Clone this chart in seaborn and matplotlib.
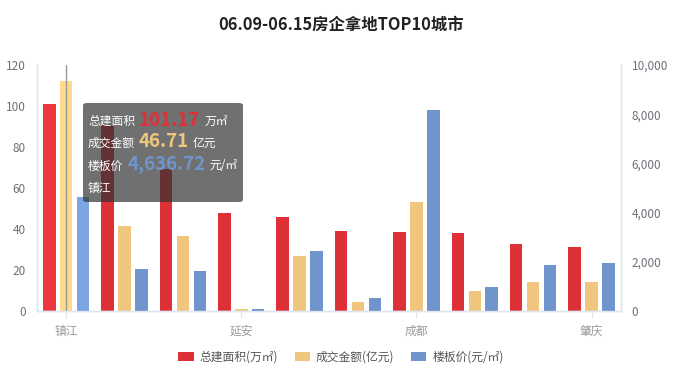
import numpy as np
import pandas as pd
import matplotlib.pyplot as plt
import seaborn as sns
from matplotlib.patches import FancyBboxPatch, Patch

# data
ranks = list(range(10))
city_labels = ['镇江', '', '', '延安', '', '', '成都', '', '', '肇庆']
area = [101.2, 90.7, 69.3, 47.7, 45.7, 39.0, 38.7, 38.0, 32.7, 31.2]      # 万㎡
amount = [112.0, 41.6, 36.6, 1.0, 26.8, 4.5, 53.0, 9.9, 14.3, 14.3]       # 亿元
price = [4637, 1707, 1626, 95, 2439, 528, 8159, 976, 1857, 1951]          # 元/㎡

series = ['总建面积(万㎡)', '成交金额(亿元)', '楼板价(元/㎡)']
colors = ['#DD3137', '#F0C57E', '#7095CD']
hi_colors = ['#EE373D', '#FFD98C', '#7BA4E0']

sns.set_theme(style='white')
plt.rcParams['font.family'] = ['Noto Sans CJK SC', 'DejaVu Sans']

nan = [np.nan] * 10
left_df = pd.DataFrame({
    'rank': ranks * 3,
    'series': np.repeat(series, 10),
    'value': area + amount + nan,
})
right_df = pd.DataFrame({
    'rank': ranks * 3,
    'series': np.repeat(series, 10),
    'value': nan + nan + price,
})

fig = plt.figure(figsize=(6.82, 3.78), dpi=100)
ax = fig.add_axes([37 / 682, 1 - 311 / 378, (620.7 - 37) / 682, (311 - 65) / 378])
ax2 = ax.twinx()

for a, df in [(ax, left_df), (ax2, right_df)]:
    sns.barplot(data=df, x='rank', y='value', hue='series', hue_order=series,
                palette=colors, width=0.87, gap=0.26, ax=a, legend=False,
                saturation=1, errorbar=None)

# highlight first category (hovered)
for a in (ax, ax2):
    for p in a.patches:
        xc = p.get_x() + p.get_width() / 2
        if xc < 0.5:
            fc = p.get_facecolor()
            for c, h in zip(colors, hi_colors):
                if np.allclose(fc[:3], plt.matplotlib.colors.to_rgb(c), atol=0.01):
                    p.set_facecolor(h)
        p.set_edgecolor('none')

ax.set_xlim(-0.5, 9.5)
ax.set_ylim(0, 120)
ax2.set_ylim(0, 10000)
ax.set_yticks([0, 20, 40, 60, 80, 100, 120])
ax2.set_yticks([0, 2000, 4000, 6000, 8000, 10000])
ax2.set_yticklabels([f'{v:,}' for v in [0, 2000, 4000, 6000, 8000, 10000]])
ax.set_xticks([0, 3, 6, 9])
ax.set_xticklabels([city_labels[i] for i in [0, 3, 6, 9]])
ax.set_xlabel('')
ax.set_ylabel('')
ax2.set_ylabel('')

ax.tick_params(axis='x', colors='#9a9a9a', labelsize=8.5, length=5, width=0.8,
               direction='out', pad=5, bottom=True)
ax.tick_params(axis='x', color='#E0E6F1', labelcolor='#9a9a9a')
ax.tick_params(axis='y', labelcolor='#6E7079', labelsize=8.5, length=0, pad=8)
ax2.tick_params(axis='y', labelcolor='#6E7079', labelsize=8.5, length=0, pad=8)

for a in (ax, ax2):
    a.grid(False)
    a.spines['top'].set_visible(False)
    for s in ['left', 'right', 'bottom']:
        a.spines[s].set_color('#E0E6F1')
        a.spines[s].set_linewidth(1)

# axis pointer line
ax2.axvline(0, color='#9a9a9a', lw=1, zorder=5)

fig.text(0.5, 1 - 25 / 378, '06.09-06.15房企拿地TOP10城市', ha='center', va='center',
         fontsize=11.8, fontweight='bold', color='#222222')

handles = [Patch(facecolor=c, edgecolor='none', label=s) for c, s in zip(colors, series)]
fig.legend(handles=handles, loc='center', bbox_to_anchor=(0.5, 1 - 357 / 378), ncol=3,
           frameon=False, fontsize=8.5, handlelength=1.3, handleheight=0.9,
           handletextpad=0.5, columnspacing=1.4, labelcolor='#555555')

# tooltip
W, H = 682, 378
box = FancyBboxPatch((83 / W, 1 - 202 / H), (243 - 83) / W, (202 - 103) / H,
                     boxstyle='round,pad=0,rounding_size=0.006',
                     transform=fig.transFigure, facecolor=(0.2, 0.2, 0.2, 0.7),
                     edgecolor='none', zorder=20)
fig.patches.append(box)
rows = [
    ('总建面积', '101.17', '万㎡', '#DD3137', 121),
    ('成交金额', '46.71', '亿元', '#F0C57E', 143),
    ('楼板价', '4,636.72', '元/㎡', '#6F95CD', 166),
]
renderer = fig.canvas.get_renderer()
for lab, val, unit, col, yy in rows:
    t1 = fig.text(88 / W, 1 - yy / H, lab, color='white', fontsize=8.5,
                  va='center', ha='left', zorder=21)
    x1 = t1.get_window_extent(renderer).x1 + 4
    t2 = fig.text(x1 / W, 1 - (yy - 1) / H, val, color=col, fontsize=13.5,
                  fontweight='bold', va='center', ha='left', zorder=21)
    x2 = t2.get_window_extent(renderer).x1 + 4
    fig.text(x2 / W, 1 - yy / H, unit, color='white', fontsize=8.5,
             va='center', ha='left', zorder=21)
fig.text(88 / W, 1 - 188 / H, '镇江', color='white', fontsize=8.5,
         va='center', ha='left', zorder=21)

fig.savefig('out.png', dpi=100)
